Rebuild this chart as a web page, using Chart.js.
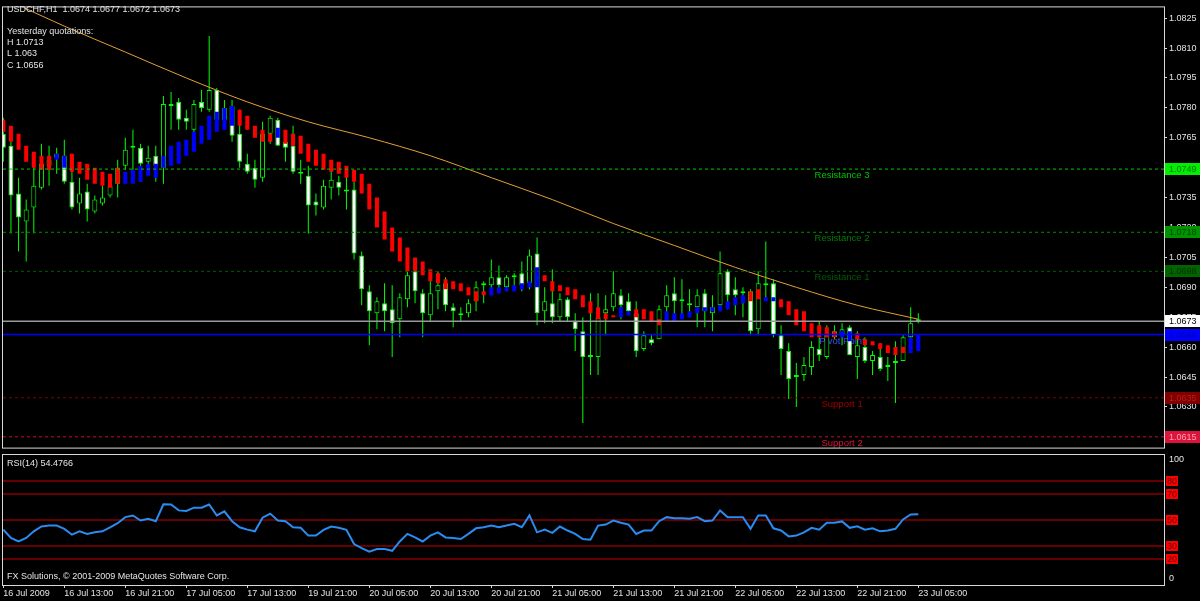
<!DOCTYPE html>
<html lang="en">
<head>
<meta charset="UTF-8">
<title>USDCHF,H1</title>
<script src="https://cdn.jsdelivr.net/npm/chart.js"></script>
<style>
    body {
        margin: 0;
        background: #000;
        width: 1200px;
        height: 601px;
        overflow: hidden;
    }
    #mainWrap {
        position: absolute;
        left: 0;
        top: 0;
        width: 1200px;
        height: 455px;
    }
    #rsiWrap {
        position: absolute;
        left: 0;
        top: 452px;
        width: 1200px;
        height: 149px;
    }
</style>
</head>
<body>
<div id="mainWrap"><canvas id="priceChart"></canvas></div>
<div id="rsiWrap"><canvas id="rsiChart"></canvas></div>

<script>
// ---- data (USDCHF H1, 16-23 Jul 2009) ----
const symbol = 'USDCHF,H1';

const opens = [
    1.0767,1.0761,1.0737,1.0723,1.0730,1.0740,1.0751,1.0755,1.0756,1.0743,
    1.0732,1.0738,1.0728,1.0732,1.0736,1.0742,1.0751,1.0760,1.0760,1.0753,
    1.0756,1.0750,1.0781,1.0783,1.0775,1.0769,1.0783,1.0779,1.0789,1.0774,
    1.0781,1.0767,1.0752,1.0750,1.0745,1.0767,1.0774,1.0763,1.0761,1.0748,
    1.0746,1.0733,1.0730,1.0740,1.0743,1.0739,1.0739,1.0706,1.0688,1.0677,
    1.0682,1.0679,1.0674,1.0684,1.0698,1.0687,1.0676,1.0688,1.0692,1.0680,
    1.0677,1.0677,1.0683,1.0691,1.0691,1.0695,1.0690,1.0695,1.0697,1.0692,
    1.0707,1.0678,1.0682,1.0675,1.0684,1.0673,1.0668,1.0656,1.0655,1.0677,
    1.0680,1.0686,1.0683,1.0677,1.0659,1.0664,1.0664,1.0680,1.0687,1.0683,
    1.0681,1.0680,1.0687,1.0677,1.0681,1.0698,1.0689,1.0687,1.0688,1.0669,
    1.0691,1.0692,1.0666,1.0658,1.0646,1.0646,1.0650,1.0659,1.0655,1.0668,
    1.0666,1.0670,1.0655,1.0660,1.0653,1.0655,1.0650,1.0652,1.0653,1.0665,
    1.0674
];
const highs = [
    1.0775,1.0763,1.0745,1.0734,1.0753,1.0762,1.0761,1.0760,1.0764,1.0751,
    1.0745,1.0742,1.0736,1.0741,1.0745,1.0754,1.0765,1.0769,1.0762,1.0761,
    1.0761,1.0786,1.0788,1.0785,1.0779,1.0784,1.0789,1.0816,1.0790,1.0784,
    1.0784,1.0779,1.0757,1.0754,1.0773,1.0776,1.0775,1.0768,1.0771,1.0754,
    1.0751,1.0737,1.0744,1.0749,1.0746,1.0749,1.0743,1.0708,1.0691,1.0685,
    1.0692,1.0691,1.0687,1.0700,1.0703,1.0689,1.0694,1.0698,1.0695,1.0682,
    1.0680,1.0684,1.0693,1.0693,1.0704,1.0701,1.0696,1.0697,1.0703,1.0709,
    1.0715,1.0690,1.0699,1.0687,1.0685,1.0677,1.0675,1.0687,1.0687,1.0686,
    1.0698,1.0689,1.0687,1.0683,1.0668,1.0666,1.0681,1.0691,1.0695,1.0694,
    1.0689,1.0689,1.0689,1.0686,1.0708,1.0699,1.0695,1.0690,1.0689,1.0698,
    1.0713,1.0694,1.0671,1.0662,1.0652,1.0655,1.0663,1.0673,1.0671,1.0671,
    1.0672,1.0671,1.0668,1.0665,1.0658,1.0662,1.0655,1.0663,1.0666,1.0680,
    1.0677
];
const lows = [
    1.0753,1.0717,1.0708,1.0703,1.0717,1.0739,1.0741,1.0747,1.0742,1.0729,
    1.0727,1.0723,1.0727,1.0731,1.0735,1.0735,1.0749,1.0743,1.0743,1.0747,
    1.0743,1.0742,1.0769,1.0769,1.0769,1.0767,1.0778,1.0778,1.0770,1.0771,
    1.0763,1.0750,1.0747,1.0740,1.0743,1.0762,1.0761,1.0753,1.0747,1.0742,
    1.0717,1.0726,1.0729,1.0734,1.0736,1.0729,1.0704,1.0681,1.0661,1.0669,
    1.0668,1.0655,1.0665,1.0680,1.0682,1.0665,1.0673,1.0679,1.0678,1.0670,
    1.0673,1.0675,1.0678,1.0682,1.0686,1.0687,1.0688,1.0688,1.0688,1.0689,
    1.0671,1.0672,1.0672,1.0673,1.0673,1.0658,1.0622,1.0646,1.0646,1.0666,
    1.0678,1.0674,1.0676,1.0655,1.0658,1.0661,1.0664,1.0673,1.0673,1.0675,
    1.0675,1.0670,1.0670,1.0668,1.0678,1.0679,1.0676,1.0675,1.0666,1.0666,
    1.0684,1.0665,1.0646,1.0634,1.0630,1.0643,1.0646,1.0653,1.0654,1.0664,
    1.0661,1.0656,1.0644,1.0652,1.0646,1.0648,1.0643,1.0632,1.0653,1.0663,
    1.0672
];
const closes = [
    1.0760,1.0736,1.0725,1.0729,1.0741,1.0752,1.0754,1.0757,1.0743,1.0730,
    1.0737,1.0729,1.0734,1.0735,1.0741,1.0750,1.0759,1.0761,1.0752,1.0755,
    1.0751,1.0782,1.0782,1.0774,1.0773,1.0782,1.0780,1.0789,1.0774,1.0780,
    1.0766,1.0753,1.0748,1.0744,1.0767,1.0775,1.0761,1.0760,1.0748,1.0747,
    1.0731,1.0731,1.0741,1.0744,1.0740,1.0738,1.0707,1.0689,1.0678,1.0683,
    1.0678,1.0672,1.0685,1.0696,1.0688,1.0677,1.0687,1.0691,1.0681,1.0678,
    1.0676,1.0682,1.0690,1.0692,1.0695,1.0691,1.0695,1.0696,1.0691,1.0706,
    1.0677,1.0683,1.0675,1.0684,1.0675,1.0669,1.0655,1.0655,1.0675,1.0679,
    1.0687,1.0681,1.0678,1.0658,1.0666,1.0662,1.0679,1.0686,1.0683,1.0684,
    1.0682,1.0686,1.0678,1.0680,1.0697,1.0686,1.0686,1.0688,1.0668,1.0692,
    1.0692,1.0666,1.0659,1.0644,1.0645,1.0651,1.0660,1.0656,1.0667,1.0665,
    1.0669,1.0656,1.0661,1.0653,1.0656,1.0649,1.0651,1.0653,1.0665,1.0672,
    1.0673
];

// red / blue trend bars (Heiken Ashi style indicator)
const haOpen = [
    1.0774,1.0771,1.0767,1.0761,1.0758,1.0756,1.0756,1.0754,1.0750,1.0757,
    1.0753,1.0752,1.0750,1.0748,1.0747,1.0750,1.0742,1.0742,1.0743,1.0746,
    1.0745,1.0750,1.0751,1.0752,1.0756,1.0758,1.0762,1.0764,1.0768,1.0769,
    1.0771,1.0779,1.0776,1.0771,1.0769,1.0767,1.0765,1.0769,1.0767,1.0766,
    1.0762,1.0759,1.0757,1.0754,1.0753,1.0751,1.0749,1.0747,1.0742,1.0735,
    1.0728,1.0720,1.0715,1.0710,1.0705,1.0703,1.0699,1.0697,1.0694,1.0693,
    1.0692,1.0690,1.0688,1.0688,1.0686,1.0687,1.0688,1.0688,1.0689,1.0690,
    1.0690,1.0696,1.0693,1.0691,1.0690,1.0689,1.0686,1.0683,1.0680,1.0677,
    1.0676,1.0675,1.0676,1.0679,1.0679,1.0678,1.0674,1.0673,1.0673,1.0674,
    1.0675,1.0677,1.0678,1.0678,1.0678,1.0679,1.0681,1.0682,1.0688,1.0689,
    1.0683,1.0683,1.0684,1.0683,1.0679,1.0678,1.0672,1.0671,1.0670,1.0668,
    1.0665,1.0663,1.0667,1.0664,1.0663,1.0662,1.0661,1.0660,1.0660,1.0657,
    1.0658
];
const haClose = [
    1.0768,1.0763,1.0759,1.0753,1.0750,1.0749,1.0749,1.0757,1.0756,1.0748,
    1.0747,1.0744,1.0742,1.0741,1.0740,1.0742,1.0748,1.0749,1.0751,1.0752,
    1.0752,1.0756,1.0761,1.0763,1.0764,1.0768,1.0771,1.0776,1.0778,1.0780,
    1.0781,1.0771,1.0769,1.0765,1.0763,1.0763,1.0770,1.0762,1.0761,1.0757,
    1.0753,1.0751,1.0749,1.0748,1.0747,1.0745,1.0743,1.0737,1.0729,1.0720,
    1.0714,1.0708,1.0703,1.0698,1.0698,1.0696,1.0693,1.0692,1.0689,1.0689,
    1.0688,1.0686,1.0683,1.0686,1.0690,1.0690,1.0690,1.0691,1.0692,1.0693,
    1.0700,1.0693,1.0688,1.0688,1.0686,1.0684,1.0680,1.0677,1.0674,1.0674,
    1.0675,1.0680,1.0678,1.0675,1.0674,1.0673,1.0671,1.0678,1.0677,1.0677,
    1.0678,1.0680,1.0680,1.0680,1.0681,1.0683,1.0685,1.0686,1.0683,1.0684,
    1.0685,1.0685,1.0680,1.0676,1.0671,1.0668,1.0665,1.0665,1.0665,1.0665,
    1.0668,1.0668,1.0664,1.0661,1.0661,1.0659,1.0657,1.0656,1.0657,1.0665,
    1.0666
];

// orange moving average, read every 8 bars
const maBars = [0, 8, 16, 24, 32, 40, 48, 56, 64, 72, 80, 88, 96, 104, 112, 120];
const maValues = [1.0835, 1.0821, 1.0808, 1.0795, 1.0783, 1.0773, 1.0765, 1.0756,
                  1.0745, 1.0734, 1.0722, 1.0711, 1.0700, 1.0690, 1.0681, 1.0674];

const rsi = [
    42.6,36.2,33.5,36.2,41.3,45.0,45.7,45.7,43.2,38.7,
    41.3,39.3,40.5,41.3,44.4,47.5,52.2,53.5,49.6,51.0,
    49.1,62.1,61.9,57.4,56.9,59.5,59.5,61.9,53.5,56.7,
    49.1,44.4,42.6,41.3,51.8,54.9,49.6,49.1,44.4,44.0,
    38.0,38.0,42.4,45.0,44.0,42.4,31.5,28.4,25.7,27.6,
    27.6,26.3,33.5,39.3,36.6,33.5,38.0,40.5,36.6,36.2,
    35.4,39.3,43.6,44.4,45.7,44.4,45.7,47.1,44.4,53.5,
    40.5,42.6,40.1,45.0,41.9,39.3,35.4,34.8,45.7,46.5,
    49.6,47.9,46.5,39.3,41.9,41.9,49.1,52.2,51.4,51.4,
    51.0,52.2,49.1,49.6,57.4,52.2,52.2,52.2,43.2,53.5,
    53.5,43.6,41.9,37.4,38.0,40.5,44.0,42.6,47.9,47.9,
    48.9,44.0,45.2,42.6,43.6,41.3,41.9,43.2,50.4,54.3,
    54.4766
];

const yesterdayHigh = 1.0713;
const yesterdayLow = 1.063;
const yesterdayClose = 1.0656;

// pivot levels drawn as horizontal lines
const levelNames = ['Resistance 3', 'Resistance 2', 'Resistance 1', 'Pivot Point', 'Support 1', 'Support 2'];
const levelValues = [1.07493, 1.07176, 1.06980, 1.06663, 1.06346, 1.06150];
const levelLineColors = ['#00c800', '#008c00', '#005c00', '#0000ff', '#800000', '#c8102e'];
const levelBoxColors = ['#00ee00', '#009400', '#006400', '#0000ff', '#800000', '#dc143c'];
const levelBoxText = ['#007400', '#004400', '#003000', '#0000a8', '#bb1a1a', '#ffa3b1'];
const levelTextColors = ['#00c000', '#007c00', '#005a00', '#4848ff', '#a00000', '#d8143a'];
const levelLabelBar = 110;

const priceTicks = [1.0825, 1.0810, 1.0795, 1.0780, 1.0765, 1.0750, 1.0735, 1.0720,
                    1.0705, 1.0690, 1.0675, 1.0660, 1.0645, 1.0630, 1.0615];
const rsiLevels = [80, 70, 50, 30, 20];

const timeTickBars = [0, 8, 16, 24, 32, 40, 48, 56, 64, 72, 80, 88, 96, 104, 112, 120];
const timeLabels = ['16 Jul 2009', '16 Jul 13:00', '16 Jul 21:00', '17 Jul 05:00', '17 Jul 13:00',
                    '19 Jul 21:00', '20 Jul 05:00', '20 Jul 13:00', '20 Jul 21:00', '21 Jul 05:00',
                    '21 Jul 13:00', '21 Jul 21:00', '22 Jul 05:00', '22 Jul 13:00', '22 Jul 21:00',
                    '23 Jul 05:00'];

// ---- look ----
const FONT = '9px "Liberation Sans", Arial, sans-serif';
const TEXT = '#e4e4e4';
const FRAME = '#d8d8d8';
const X_MIN = -0.04;
const X_MAX = 152.22;

Chart.defaults.font.family = '"Liberation Sans", Arial, sans-serif';
Chart.defaults.font.size = 9;
Chart.defaults.color = TEXT;

const bars = closes.map((_, i) => i);
const last = closes.length - 1;

function drawFrame(ctx, a) {
    ctx.strokeStyle = FRAME;
    ctx.lineWidth = 1;
    ctx.strokeRect(a.left - 0.5, a.top - 0.5, a.right - a.left + 1, a.bottom - a.top + 1);
}

const priceOverlay = {
    id: 'priceOverlay',
    beforeDatasetsDraw(chart) {
        const {ctx, scales: {x, y}} = chart;
        ctx.save();
        ctx.font = '9.5px "Liberation Sans", Arial, sans-serif';
        ctx.textAlign = 'center';
        ctx.textBaseline = 'middle';
        levelValues.forEach((v, k) => {
            ctx.fillStyle = levelTextColors[k];
            ctx.fillText(levelNames[k], x.getPixelForValue(levelLabelBar), y.getPixelForValue(v) + 6.5);
        });
        ctx.restore();
    },
    afterDraw(chart) {
        const {ctx, chartArea: a, scales: {y}} = chart;
        ctx.save();
        drawFrame(ctx, a);

        ctx.font = FONT;
        ctx.fillStyle = TEXT;
        ctx.textAlign = 'left';
        ctx.textBaseline = 'middle';
        const f = v => v.toFixed(4);
        ctx.fillText(symbol + '  ' + f(opens[last]) + ' ' + f(highs[last]) + ' ' + f(lows[last]) + ' ' + f(closes[last]), 7, 10);
        ctx.fillText('Yesterday quotations:', 7, 31.5);
        ctx.fillText('H ' + yesterdayHigh, 7, 42.5);
        ctx.fillText('L ' + yesterdayLow, 7, 54);
        ctx.fillText('C ' + yesterdayClose, 7, 65.5);

        // price boxes on the right axis
        const boxes = levelValues.map((v, k) => ({v, bg: levelBoxColors[k], fg: levelBoxText[k]}));
        boxes.push({v: closes[last], bg: '#ffffff', fg: '#000000'});
        boxes.forEach(b => {
            const py = Math.round(y.getPixelForValue(b.v));
            ctx.fillStyle = b.bg;
            ctx.fillRect(a.right + 1, py - 6, 35, 12);
            ctx.fillStyle = b.fg;
            ctx.fillText(b.v.toFixed(4), a.right + 5, py + 0.5);
        });
        ctx.restore();
    }
};

const rsiOverlay = {
    id: 'rsiOverlay',
    afterDraw(chart) {
        const {ctx, chartArea: a, scales: {y}} = chart;
        ctx.save();
        drawFrame(ctx, a);
        ctx.font = FONT;
        ctx.fillStyle = TEXT;
        ctx.textAlign = 'left';
        ctx.textBaseline = 'middle';
        ctx.fillText('RSI(14) ' + rsi[last], 7, 12);
        ctx.fillText('FX Solutions, \u00A9 2001-2009 MetaQuotes Software Corp.', 7, 125);
        ctx.fillText('100', a.right + 5, y.getPixelForValue(100) + 5);
        ctx.fillText('0', a.right + 5, y.getPixelForValue(0) - 6);
        rsiLevels.forEach(v => {
            const py = Math.round(y.getPixelForValue(v));
            ctx.fillStyle = '#ff0000';
            ctx.fillRect(a.right + 2, py - 5, 12, 10);
            ctx.fillStyle = '#5a0000';
            ctx.fillText(String(v), a.right + 3, py + 0.5);
        });
        ctx.restore();
    }
};

// ---- price chart ----
const levelDatasets = levelValues.map((v, k) => ({
    type: 'line',
    label: levelNames[k],
    data: [{x: X_MIN, y: v}, {x: X_MAX, y: v}],
    borderColor: levelLineColors[k],
    borderWidth: k === 3 ? 1.5 : 1,
    borderDash: k === 3 ? [] : [3, 3],
    pointRadius: 0,
    order: 0
}));

new Chart(document.getElementById('priceChart'), {
    type: 'bar',
    data: {
        datasets: [
            ...levelDatasets,
            {
                type: 'line',
                label: 'Bid',
                data: [{x: X_MIN, y: closes[last]}, {x: X_MAX, y: closes[last]}],
                borderColor: '#9a9a9a',
                borderWidth: 1.5,
                pointRadius: 0,
                order: 0
            },
            {
                type: 'line',
                label: 'MA',
                data: maBars.map((b, k) => ({x: b, y: maValues[k]})),
                borderColor: '#e3a035',
                borderWidth: 1,
                pointRadius: 0,
                cubicInterpolationMode: 'monotone',
                order: 1
            },
            {
                label: 'Trend',
                data: bars.map(i => ({x: i, y: [haOpen[i], haClose[i]]})),
                backgroundColor: bars.map(i => haClose[i] < haOpen[i] ? '#ff0000' : '#0000ff'),
                barThickness: 4,
                grouped: false,
                borderSkipped: false,
                inflateAmount: 0,
                order: 2
            },
            {
                label: 'Body',
                data: bars.map(i => ({x: i, y: [opens[i], closes[i]]})),
                backgroundColor: bars.map(i => closes[i] < opens[i] ? '#ffffff' : '#000000'),
                borderColor: '#00ff00',
                borderWidth: 1,
                borderSkipped: false,
                barThickness: 5,
                grouped: false,
                inflateAmount: 0,
                order: 3
            },
            {
                label: 'Wick',
                data: bars.map(i => ({x: i, y: [lows[i], highs[i]]})),
                backgroundColor: '#00ff00',
                barThickness: 1,
                grouped: false,
                inflateAmount: 0,
                order: 4
            }
        ]
    },
    options: {
        responsive: true,
        maintainAspectRatio: false,
        devicePixelRatio: 1,
        animation: false,
        events: [],
        layout: {padding: {top: 3, left: 3, bottom: 3, right: 0}},
        plugins: {legend: {display: false}, tooltip: {enabled: false}},
        scales: {
            x: {
                type: 'linear',
                min: X_MIN,
                max: X_MAX,
                offset: false,
                display: false,
                grid: {offset: false}
            },
            y: {
                position: 'right',
                min: 1.06096,
                max: 1.08304,
                beginAtZero: false,
                afterBuildTicks: s => { s.ticks = priceTicks.map(v => ({value: v})); },
                afterFit: s => { s.width = 36; },
                border: {display: false},
                grid: {drawOnChartArea: false, drawTicks: true, tickLength: 3, color: FRAME},
                ticks: {
                    autoSkip: false,
                    padding: 2,
                    color: TEXT,
                    font: {size: 9},
                    callback: v => v.toFixed(4)
                }
            }
        }
    },
    plugins: [priceOverlay]
});

// ---- RSI chart ----
new Chart(document.getElementById('rsiChart'), {
    type: 'line',
    data: {
        datasets: [
            ...rsiLevels.map(v => ({
                label: 'level ' + v,
                data: [{x: X_MIN, y: v}, {x: X_MAX, y: v}],
                borderColor: '#cc0000',
                borderWidth: 1,
                pointRadius: 0,
                order: 1
            })),
            {
                label: 'RSI(14)',
                data: bars.map(i => ({x: i, y: rsi[i]})),
                borderColor: '#2a8cf0',
                borderWidth: 2,
                pointRadius: 0,
                tension: 0,
                order: 0
            }
        ]
    },
    options: {
        responsive: true,
        maintainAspectRatio: false,
        devicePixelRatio: 1,
        animation: false,
        events: [],
        layout: {padding: {top: 3, left: 3, bottom: 0, right: 0}},
        plugins: {legend: {display: false}, tooltip: {enabled: false}},
        scales: {
            x: {
                type: 'linear',
                min: X_MIN,
                max: X_MAX,
                afterBuildTicks: s => { s.ticks = timeTickBars.map(v => ({value: v})); },
                afterFit: s => { s.height = 16; },
                border: {display: false},
                grid: {drawOnChartArea: false, drawTicks: true, tickLength: 3, color: FRAME},
                ticks: {
                    autoSkip: false,
                    maxRotation: 0,
                    align: 'start',
                    padding: 0,
                    color: TEXT,
                    font: {size: 9},
                    callback: (v, k) => timeLabels[k]
                }
            },
            y: {
                position: 'right',
                min: 0,
                max: 100,
                afterFit: s => { s.width = 36; },
                border: {display: false},
                grid: {display: false},
                ticks: {display: false}
            }
        }
    },
    plugins: [rsiOverlay]
});
</script>
</body>
</html>
